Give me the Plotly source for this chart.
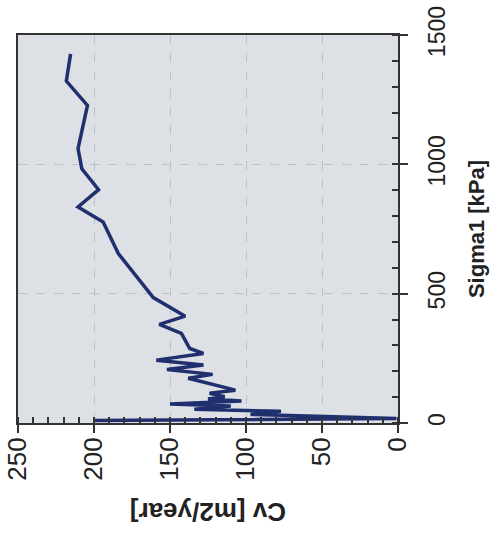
import plotly.graph_objects as go

# Data read from the (rotated) reference chart
sigma1 = [10, 17, 33, 45, 53, 66, 73, 85, 93, 102, 115, 127, 173, 188, 207, 224,
          243, 269, 288, 346, 381, 413, 485, 655, 777, 835, 902, 983, 1061,
          1228, 1322, 1427]
cv = [200, 1, 97, 77, 134, 110, 150, 103, 125, 114, 124, 107, 138, 122, 152, 128,
      159, 128, 137, 142.5, 157, 140, 161, 184, 194, 210.5, 197, 208, 210.5,
      204.3, 218.2, 215.4]

cv_ticks = [0, 50, 100, 150, 200, 250]
sigma_ticks = [0, 500, 1000, 1500]

FONT = "Liberation Sans, Arial, sans-serif"
AXIS = "#333333"
TXT = "#222222"
GRID = "#bdc1c7"

fig = go.Figure(
    go.Scatter(x=cv, y=sigma1, mode="lines",
               line=dict(color="#20306e", width=3.5))
)

fig.update_layout(
    width=503, height=536,
    margin=dict(l=18, r=105, t=35, b=113, autoexpand=False),
    paper_bgcolor="white",
    plot_bgcolor="#dde0e5",
    showlegend=False,
    font=dict(family=FONT, color=TXT),
)

fig.update_xaxes(
    range=[250, 0], automargin=False, ticklabeloverflow="allow",
    tickmode="array", tickvals=cv_ticks, ticktext=[str(v) for v in cv_ticks],
    ticks="outside", ticklen=8, tickwidth=1.5, tickcolor=AXIS,
    tickangle=-90, tickfont=dict(size=26, family=FONT, color=TXT),
    ticklabelstandoff=-6,
    showline=True, linecolor=AXIS, linewidth=2, mirror=True,
    showgrid=True, gridcolor=GRID, griddash="dash", gridwidth=1,
    zeroline=False,
    minor=dict(dtick=10, ticks="inside", ticklen=6, tickcolor=AXIS, tickwidth=1.5, showgrid=False),
)

fig.update_yaxes(
    range=[0, 1500], side="right", automargin=False, ticklabeloverflow="allow",
    tickmode="array", tickvals=sigma_ticks, ticktext=[str(v) for v in sigma_ticks],
    ticks="outside", ticklen=8, tickwidth=1.5, tickcolor=AXIS,
    tickangle=-90, tickfont=dict(size=23, family=FONT, color=TXT),
    ticklabelstandoff=9,
    showline=True, linecolor=AXIS, linewidth=2, mirror=True,
    showgrid=True, gridcolor=GRID, griddash="dash", gridwidth=1,
    zeroline=False,
    title=dict(text="<b>Sigma1 [kPa]</b>", font=dict(size=22, family=FONT, color=TXT), standoff=20),
    minor=dict(dtick=100, ticks="inside", ticklen=6, tickcolor=AXIS, tickwidth=1.5, showgrid=False),
)

fig.add_annotation(
    text="<b>Cv [m2/year]</b>", xref="paper", yref="paper",
    x=0.5, y=-0.229, xanchor="center", yanchor="middle",
    textangle=180, showarrow=False,
    font=dict(size=26, family=FONT, color=TXT),
)

# remove the default page margin so the figure sits at the window's top-left corner
fig.write_html("out.html", config={"displayModeBar": False},
               post_script="document.body.style.margin='0';")
